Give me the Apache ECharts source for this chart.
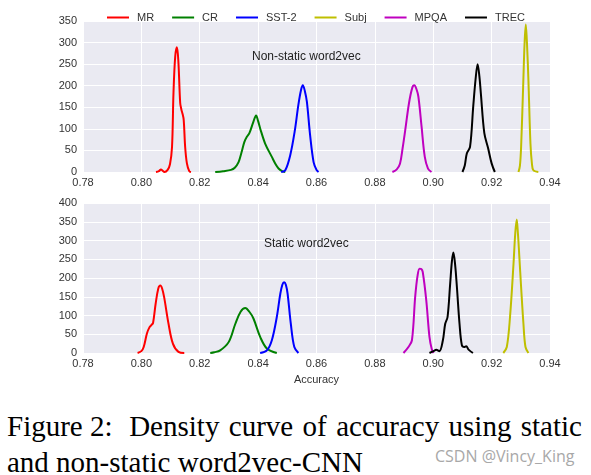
<!DOCTYPE html>
<html>
<head>
<meta charset="utf-8">
<script src="https://cdn.jsdelivr.net/npm/echarts@6/dist/echarts.min.js"></script>
<style>
  html, body { margin: 0; padding: 0; background: #fff; overflow: hidden; }
  #wrap { position: relative; width: 591px; height: 475px; }
  #chart { position: absolute; left: 0; top: 0; width: 591px; height: 400px; }
  .cap { position: absolute; left: 7px; font-family: 'Liberation Serif', 'Times New Roman', serif; font-size: 29px; line-height: 30px; color: #000; white-space: nowrap; }
  #cap1 { top: 411px; width: 575px; display: flex; justify-content: space-between; }
  #cap2 { top: 447px; }
  #wm { position: absolute; left: 435px; top: 447px; font-family: 'Open Sans', 'Noto Sans', sans-serif; font-size: 16px; line-height: 18px; color: #a8a8a8; white-space: nowrap; }
</style>
</head>
<body>
<div id="wrap">
  <div id="chart"></div>
  <div class="cap" id="cap1"><span>Figure 2:&nbsp;</span><span>Density</span><span>curve</span><span>of</span><span>accuracy</span><span>using</span><span>static</span></div>
  <div class="cap" id="cap2">and non-static word2vec-CNN</div>
  <div id="wm">CSDN @Vincy_King</div>
</div>
<script>
// ---- data (accuracy, density) ----
const seriesNames = ['MR', 'CR', 'SST-2', 'Subj', 'MPQA', 'TREC'];

// Non-static word2vec (top panel)
const nsMR = [[0.8050,0],[0.8060,2],[0.8067,6],[0.8073,3],[0.8079,0],[0.8090,5],[0.8098,18],[0.8105,58],[0.8110,183],[0.8116,268],[0.8122,289],[0.8127,253],[0.8133,160],[0.8137,145],[0.8141,135],[0.8145,121],[0.8150,58],[0.8156,20],[0.8164,2],[0.8170,0]];
const nsCR = [[0.8253,0],[0.8280,2],[0.8307,5],[0.8320,10],[0.8333,23],[0.8343,45],[0.8353,70],[0.8362,82],[0.8370,90],[0.8384,117],[0.8393,131],[0.8400,118],[0.8407,101],[0.8424,66],[0.8447,35],[0.8460,18],[0.8470,8],[0.8482,2],[0.8493,0]];
const nsSST2 = [[0.8479,0],[0.8493,4],[0.8510,39],[0.8525,93],[0.8538,156],[0.8547,190],[0.8553,201],[0.8560,188],[0.8567,163],[0.8578,86],[0.8590,23],[0.8600,5],[0.8607,0]];
const nsSubj = [[0.9292,0],[0.9297,15],[0.9301,58],[0.9308,198],[0.9313,300],[0.9317,342],[0.9321,300],[0.9326,214],[0.9333,66],[0.9338,20],[0.9343,4],[0.9360,0]];
const nsMPQA = [[0.8860,0],[0.8875,6],[0.8886,19],[0.8895,55],[0.8904,97],[0.8917,160],[0.8928,195],[0.8935,201],[0.8942,193],[0.8949,175],[0.8960,105],[0.8971,35],[0.8982,8],[0.8994,0]];
const nsTREC = [[0.9100,0],[0.9108,15],[0.9115,43],[0.9126,58],[0.9137,152],[0.9145,215],[0.9152,250],[0.9158,222],[0.9163,183],[0.9175,90],[0.9188,55],[0.9200,20],[0.9211,0]];

// Static word2vec (bottom panel)
const stMR = [[0.7987,0],[0.8000,5],[0.8008,16],[0.8019,52],[0.8028,69],[0.8035,75],[0.8040,80],[0.8049,132],[0.8058,172],[0.8065,180],[0.8071,172],[0.8078,149],[0.8093,78],[0.8108,25],[0.8127,3],[0.8147,0]];
const stCR = [[0.8236,0],[0.8250,2],[0.8270,7],[0.8299,29],[0.8322,78],[0.8340,110],[0.8356,120],[0.8370,110],[0.8384,92],[0.8407,43],[0.8430,12],[0.8464,0]];
const stSST2 = [[0.8407,0],[0.8430,7],[0.8447,34],[0.8464,96],[0.8476,158],[0.8483,182],[0.8489,189],[0.8495,182],[0.8501,158],[0.8512,78],[0.8524,16],[0.8538,0]];
const stSubj = [[0.9240,0],[0.9252,16],[0.9263,96],[0.9275,238],[0.9281,320],[0.9286,356],[0.9290,320],[0.9295,256],[0.9301,176],[0.9309,78],[0.9316,16],[0.9326,0]];
const stMPQA = [[0.8898,0],[0.8915,16],[0.8927,34],[0.8938,149],[0.8946,205],[0.8953,225],[0.8959,224],[0.8964,216],[0.8976,141],[0.8987,43],[0.8995,10],[0.9001,0]];
const stTREC = [[0.8987,0],[0.9001,5],[0.9010,9],[0.9021,5],[0.9033,34],[0.9041,78],[0.9049,96],[0.9058,185],[0.9064,245],[0.9069,268],[0.9075,235],[0.9081,176],[0.9090,78],[0.9098,21],[0.9106,16],[0.9113,18],[0.9121,9],[0.9136,0]];

const nonStaticData = [nsMR, nsCR, nsSST2, nsSubj, nsMPQA, nsTREC];
const staticData = [stMR, stCR, stSST2, stSubj, stMPQA, stTREC];

const xMin = 0.78, xMax = 0.94, xStep = 0.02;
const yTopMax = 350, yBottomMax = 400, yStep = 50;
const panelTitles = ['Non-static word2vec', 'Static word2vec'];
const xAxisTitle = 'Accuracy';

// ---- style ----
const colors = ['#ff0000', '#008000', '#0000ff', '#bfbf00', '#bf00bf', '#000000'];
const FONT = "'Liberation Sans', Arial, sans-serif";
const TXT = '#333333';

const chart = echarts.init(document.getElementById('chart'), null, { renderer: 'canvas' });

function xAxis(gridIndex, withName) {
  return {
    type: 'value', gridIndex: gridIndex, min: xMin, max: xMax, interval: xStep,
    axisLine: { show: false }, axisTick: { show: false },
    axisLabel: { color: TXT, fontSize: 11, fontFamily: FONT, margin: 5,
      formatter: v => v.toFixed(2), showMinLabel: true, showMaxLabel: true },
    splitLine: { show: true, lineStyle: { color: '#ffffff', width: 1 } },
    name: withName ? xAxisTitle : '', nameLocation: 'middle', nameGap: 21,
    nameTextStyle: { color: TXT, fontSize: 11, fontFamily: FONT }
  };
}
function yAxis(gridIndex, max) {
  return {
    type: 'value', gridIndex: gridIndex, min: 0, max: max, interval: yStep,
    axisLine: { show: false }, axisTick: { show: false },
    axisLabel: { color: TXT, fontSize: 11, fontFamily: FONT, margin: 6 },
    splitLine: { show: true, lineStyle: { color: '#ffffff', width: 1 } }
  };
}

const series = [];
seriesNames.forEach((name, i) => {
  series.push({
    name: name, type: 'line', xAxisIndex: 0, yAxisIndex: 0,
    data: nonStaticData[i], smooth: 0.35, showSymbol: false, symbol: 'none',
    lineStyle: { color: colors[i], width: 2 }, itemStyle: { color: colors[i] },
    emphasis: { disabled: true }, animation: false, z: 3
  });
  series.push({
    name: name, type: 'line', xAxisIndex: 1, yAxisIndex: 1,
    data: staticData[i], smooth: 0.35, showSymbol: false, symbol: 'none',
    lineStyle: { color: colors[i], width: 2 }, itemStyle: { color: colors[i] },
    emphasis: { disabled: true }, animation: false, z: 3
  });
});

chart.setOption({
  animation: false,
  backgroundColor: '#ffffff',
  title: [
    { text: panelTitles[0], left: 252, top: 51, padding: 0,
      textStyle: { fontSize: 12, fontWeight: 'normal', color: '#222', fontFamily: FONT } },
    { text: panelTitles[1], left: 264, top: 238, padding: 0,
      textStyle: { fontSize: 12, fontWeight: 'normal', color: '#222', fontFamily: FONT } }
  ],
  legend: {
    data: seriesNames, left: 107, top: 12, padding: 0,
    icon: 'rect', itemWidth: 22, itemHeight: 2, itemGap: 18,
    textStyle: { color: TXT, fontSize: 11, fontFamily: FONT, padding: [0, 0, 0, 3] },
    z: 10
  },
  grid: [
    { left: 83, right: 41, top: 21, height: 151, show: true, backgroundColor: '#eaeaf2', borderWidth: 0 },
    { left: 83, right: 41, top: 203, height: 150, show: true, backgroundColor: '#eaeaf2', borderWidth: 0 }
  ],
  xAxis: [xAxis(0, false), xAxis(1, true)],
  yAxis: [yAxis(0, yTopMax), yAxis(1, yBottomMax)],
  series: series
});
</script>
</body>
</html>
